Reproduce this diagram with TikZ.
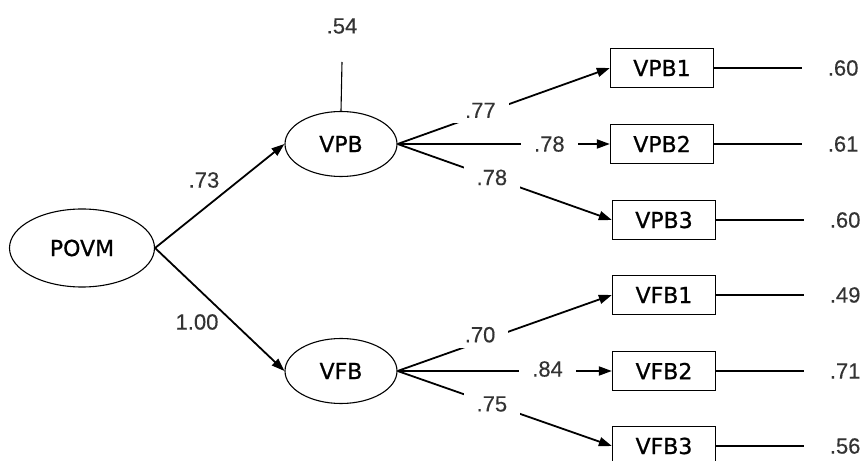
\documentclass[tikz,border=0pt]{standalone}
\usepackage{fontspec}
\setmainfont{DejaVu Sans}
\newfontfamily\labfont[FakeBold=0.8]{DejaVu Sans}
\newfontfamily\numfont[FakeBold=0.3]{Liberation Sans}
\usetikzlibrary{shapes.geometric,arrows.meta}

\begin{document}
\begin{tikzpicture}[x=1bp,y=-1bp,
  latent/.style={draw,ellipse,line width=1.1bp,inner sep=0pt,
    font=\labfont\fontsize{22bp}{24bp}\selectfont},
  observed/.style={draw,rectangle,line width=1.3bp,minimum width=103bp,
    minimum height=39bp,inner sep=0pt,font=\labfont\fontsize{22bp}{24bp}\selectfont},
  coef/.style={font=\numfont\fontsize{22bp}{24bp}\selectfont,text=black!80,inner sep=0pt},
  causal/.style={line width=1.8bp,-{Triangle[length=13bp,width=9bp]}},
  loadlab/.style={coef,fill=white,inner xsep=13bp,inner ysep=5bp},
  errline/.style={line width=1.1bp}
]
\useasboundingbox[fill=white] (0,0) rectangle (861,461);
\clip (0,0) rectangle (861,461);

% latent factors
\node[latent,minimum width=145bp,minimum height=78bp] (POVM) at (82,248) {POVM};
\node[latent,minimum width=112bp,minimum height=65bp] (VPB) at (341,144) {VPB};
\node[latent,minimum width=112bp,minimum height=65bp] (VFB) at (341,371) {VFB};

% indicators
\node[observed] (VPB1) at (662,68)  {VPB1};
\node[observed] (VPB2) at (662,144) {VPB2};
\node[observed] (VPB3) at (664,220) {VPB3};
\node[observed] (VFB1) at (664,295) {VFB1};
\node[observed] (VFB2) at (664,371) {VFB2};
\node[observed] (VFB3) at (664,446) {VFB3};

% structural paths
\draw[causal] (POVM.east) -- (VPB.west);
\draw[causal] (POVM.east) -- (VFB.west);
\node[coef] (c73) at (204,180) {.73};
\node[coef] (c100) at (197,322) {1.00};

% disturbance of VPB
\coordinate (dVPB) at (342,62);
\draw[errline] (VPB.north) -- (dVPB);
\node[coef] (r54) at (342,26) {.54};

% loadings
\draw[causal] (VPB.east) -- node[loadlab,pos=0.39,yshift=4bp]{.77} (VPB1.west);
\draw[causal] (VPB.east) -- node[loadlab,pos=0.715]{.78} (VPB2.west);
\draw[causal] (VPB.east) -- node[loadlab,pos=0.44]{.78} (VPB3.west);
\draw[causal] (VFB.east) -- node[loadlab,pos=0.385,yshift=7bp]{.70} (VFB1.west);
\draw[causal] (VFB.east) -- node[loadlab,pos=0.70,yshift=2bp]{.84} (VFB2.west);
\draw[causal] (VFB.east) -- node[loadlab,pos=0.44]{.75} (VFB3.west);

% measurement errors
\foreach \b/\v in {VPB1/.60,VPB2/.61,VPB3/.60,VFB1/.49,VFB2/.71,VFB3/.56}{
  \coordinate (e\b) at ([xshift=88bp]\b.east);
  \draw[errline] (\b.east) -- (e\b);
  \node[coef,anchor=center] (r\b) at ([xshift=41bp]e\b) {\v};
}
\end{tikzpicture}
\end{document}
